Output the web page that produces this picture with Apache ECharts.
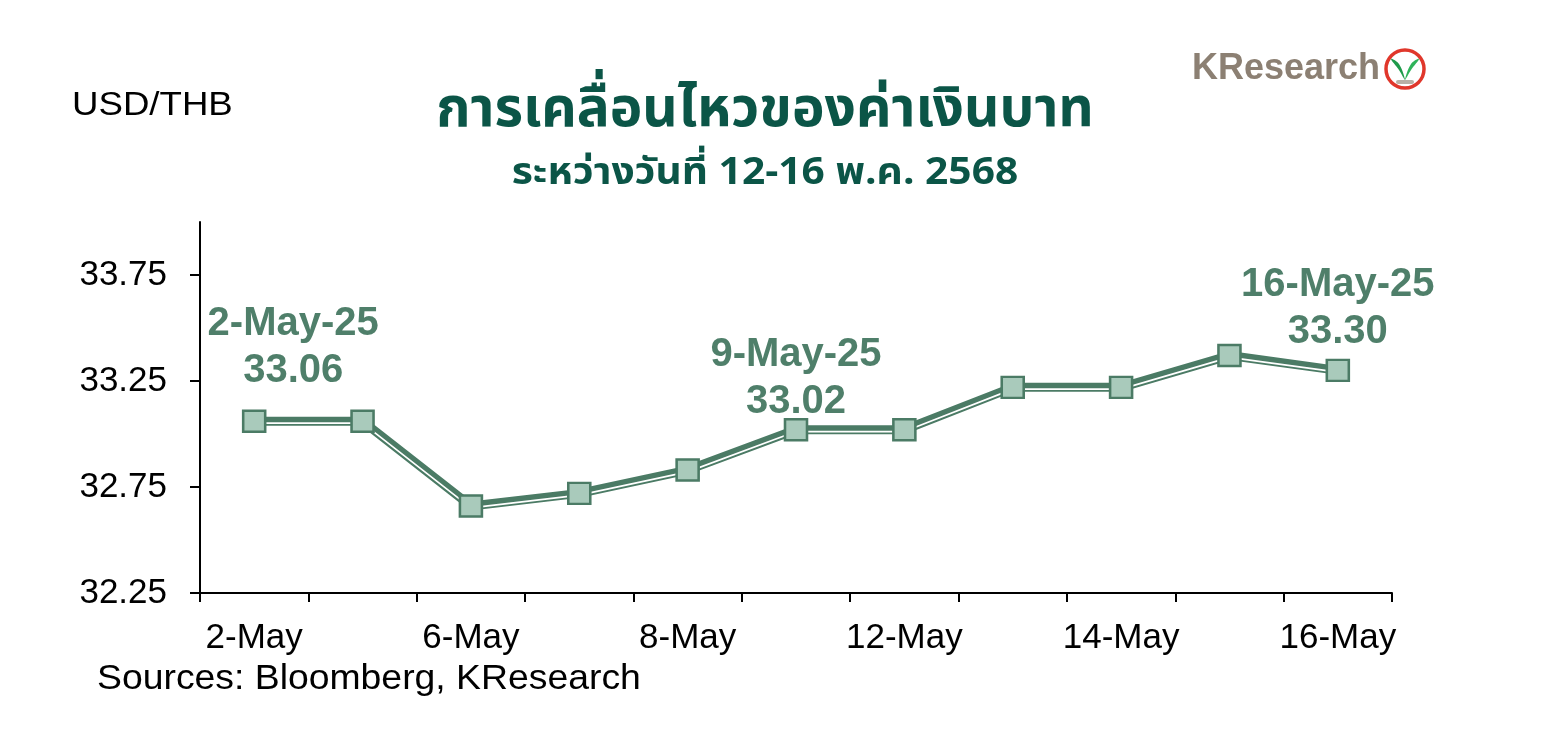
<!DOCTYPE html>
<html>
<head>
<meta charset="utf-8">
<script src="https://cdn.jsdelivr.net/npm/echarts@6/dist/echarts.min.js"></script>
<style>html,body{margin:0;padding:0;background:#fff}#c{width:1546px;height:750px}</style>
</head>
<body>
<div id="c"></div>
<script>
// ---- data ----
const categories = ['2-May','5-May','6-May','7-May','8-May','9-May','12-May','13-May','14-May','15-May','16-May'];
const fullDates = ['2-May-25','5-May-25','6-May-25','7-May-25','8-May-25','9-May-25','12-May-25','13-May-25','14-May-25','15-May-25','16-May-25'];
const usdthb = [33.06, 33.06, 32.66, 32.72, 32.83, 33.02, 33.02, 33.22, 33.22, 33.37, 33.30];
const yTicks = [32.25, 32.75, 33.25, 33.75];
const labelledIdx = [0, 5, 10];
const yMin = 32.25, yMax = 34.0;

// ---- styles ----
const DARK = '#4b7b65';
const FILL = '#a9cabb';
const LABEL = '#4f7f6a';
const TITLE = '#0b5547';
const FONT = "'Liberation Sans', Arial, Helvetica, sans-serif";
const THAI = "'Noto Sans Thai', 'Noto Sans Thai UI', 'Loma', 'Garuda', 'Tlwg Typo', 'Noto Sans', sans-serif";
const labelStyle = {
  0: {offset: [39, -15]},
  5: {offset: [0, 7]},
  10: {offset: [0, -3]}
};

const chart = echarts.init(document.getElementById('c'), null, {renderer: 'canvas'});

const scatterData = usdthb.map((v, i) => {
  const item = {value: v};
  if (labelledIdx.includes(i)) {
    item.label = {
      show: true,
      position: 'top',
      distance: 0,
      offset: labelStyle[i].offset,
      formatter: fullDates[i] + '\n' + v.toFixed(2)
    };
  }
  return item;
});

const grid0 = {left: 200, right: 154, top: 222, bottom: 157};
const grid1 = {left: 200, right: 154, top: 223.8, bottom: 155.2};

chart.setOption({
  animation: false,
  backgroundColor: '#fff',
  grid: [grid0, grid1],
  xAxis: [{
    type: 'category', gridIndex: 0, data: categories, boundaryGap: true,
    axisLine: {lineStyle: {color: '#000', width: 2}},
    axisTick: {show: true, interval: 0, length: 9, lineStyle: {color: '#000', width: 2}},
    axisLabel: {interval: 1, margin: 28, fontSize: 35, color: '#000', fontFamily: FONT}
  }, {
    type: 'category', gridIndex: 1, data: categories, boundaryGap: true, show: false
  }],
  yAxis: [{
    type: 'value', gridIndex: 0, min: yMin, max: yMax,
    splitLine: {show: false},
    axisLine: {show: true, lineStyle: {color: '#000', width: 2}},
    axisTick: {show: true, length: 10, customValues: yTicks, lineStyle: {color: '#000', width: 2}},
    axisLabel: {customValues: yTicks, margin: 33, fontSize: 35, color: '#000', fontFamily: FONT,
      formatter: v => v.toFixed(2)}
  }, {
    type: 'value', gridIndex: 1, min: yMin, max: yMax, show: false, splitLine: {show: false}
  }],
  series: [{
    type: 'line', xAxisIndex: 0, yAxisIndex: 0, data: usdthb, symbol: 'none',
    lineStyle: {color: DARK, width: 9}, z: 2
  }, {
    type: 'line', xAxisIndex: 1, yAxisIndex: 1, data: usdthb, symbol: 'none',
    lineStyle: {color: '#ffffff', width: 1.7}, z: 3
  }, {
    type: 'scatter', xAxisIndex: 0, yAxisIndex: 0, data: scatterData,
    symbol: 'rect', symbolSize: [22, 21],
    itemStyle: {color: FILL, borderColor: DARK, borderWidth: 2.5, opacity: 1},
    label: {color: LABEL, fontSize: 40, fontWeight: 'bold', fontFamily: FONT, lineHeight: 47, align: 'center'},
    emphasis: {disabled: true},
    z: 4
  }],
  graphic: [
    {type: 'text', x: 72, y: 106, scaleX: 1.11, style: {text: 'USD/THB', font: '33px ' + FONT, fill: '#000', verticalAlign: 'middle'}},
    {type: 'text', x: 97, y: 679, scaleX: 1.067, style: {text: 'Sources: Bloomberg, KResearch', font: '35px ' + FONT, fill: '#000', verticalAlign: 'middle'}},
    {type: 'text', x: 765, y: 115, style: {text: 'การเคลื่อนไหวของค่าเงินบาท', font: 'bold 55px ' + THAI, fill: TITLE, align: 'center', verticalAlign: 'middle'}},
    {type: 'text', x: 765, y: 177, scaleX: 1.1, style: {text: 'ระหว่างวันที่ 12-16 พ.ค. 2568', font: 'bold 37px ' + THAI, fill: TITLE, align: 'center', verticalAlign: 'middle'}},
    {type: 'text', x: 1192, y: 69, style: {text: 'KResearch', font: 'bold 36px ' + FONT, fill: '#8c8073', verticalAlign: 'middle'}},
    {type: 'circle', shape: {cx: 1405, cy: 69, r: 19}, style: {fill: '#fff', stroke: '#e0372b', lineWidth: 3.5}},
    {type: 'polygon', shape: {points: [[1405, 80], [1399, 70], [1391, 59], [1399, 64]], smooth: 0.4}, style: {fill: '#1f9a4a'}},
    {type: 'polygon', shape: {points: [[1405, 80], [1411, 70], [1419, 59], [1411, 64]], smooth: 0.4}, style: {fill: '#2fb35a'}},
    {type: 'rect', shape: {x: 1396, y: 80, width: 18, height: 4, r: 2}, style: {fill: '#b8b0a6'}}
  ]
});
</script>
</body>
</html>
